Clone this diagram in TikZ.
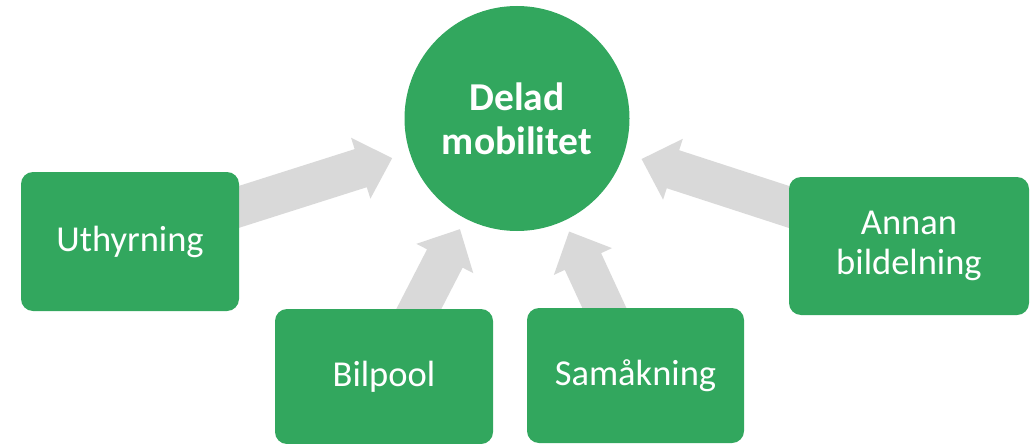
\documentclass[tikz,border=0pt]{standalone}
\usepackage{fontspec}
\setmainfont{Carlito}
\usetikzlibrary{calc}
\definecolor{grn}{RGB}{50,167,94}
\definecolor{arrowgray}{RGB}{217,217,217}
\pgfdeclarelayer{bg}
\pgfsetlayers{bg,main}
\newcommand\grayarrow[2]{%
  \coordinate (hb) at ($(#2)!33pt!(#1.center)$);
  \fill[arrowgray] ($(#1.center)!20pt!90:(#2)$) -- ($(hb)!20pt!90:(#2)$) -- ($(hb)!32pt!90:(#2)$) -- (#2)
    -- ($(hb)!32pt!-90:(#2)$) -- ($(hb)!20pt!-90:(#2)$) -- ($(#1.center)!20pt!-90:(#2)$) -- cycle;}
\begin{document}
\begin{tikzpicture}[x=1pt,y=-1pt,
  box/.style={fill=grn, rounded corners=12pt, text=white, font=\fontsize{36.5}{40}\selectfont,
    align=center, inner sep=0pt, rectangle},
  hub/.style={fill=grn, circle, text=white, font=\bfseries\fontsize{39.5}{44}\selectfont,
    align=center, inner sep=0pt, minimum size=225pt}]
\useasboundingbox (0,0) rectangle (1033,444);
\node[hub] (c) at (517,118.5) {Delad\\mobilitet};
\node[box, minimum width=218pt, minimum height=139pt] (u) at (130,241.5) {Uthyrning};
\node[box, minimum width=218pt, minimum height=135pt] (b) at (384,376.5) {Bilpool};
\node[box, minimum width=217pt, minimum height=135pt] (s) at (635.5,375.5) {Samåkning};
\node[box, minimum width=240pt, minimum height=138pt] (a) at (909,246) {Annan\\bildelning};
\coordinate (tu) at ($(c.center)!131pt!(u.center)$);
\coordinate (tb) at ($(c.center)!124.5pt!(b.center)$);
\coordinate (ts) at ($(c.center)!124.5pt!(s.center)$);
\coordinate (ta) at ($(c.center)!131pt!(a.center)$);
\begin{pgfonlayer}{bg}
\grayarrow{u}{tu}
\grayarrow{b}{tb}
\grayarrow{s}{ts}
\grayarrow{a}{ta}
\end{pgfonlayer}
\end{tikzpicture}
\end{document}
